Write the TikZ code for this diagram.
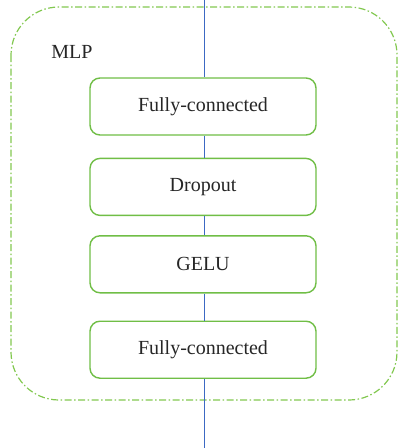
\documentclass[tikz,border=0pt]{standalone}
\usepackage{fontspec}
\setmainfont{Liberation Serif}
\usetikzlibrary{positioning}
\definecolor{boxgreen}{RGB}{112,190,70}
\definecolor{dashgreen}{RGB}{130,200,80}
\definecolor{flowblue}{RGB}{60,105,195}
\tikzset{
	layer/.style={
		rectangle,
		rounded corners=10pt,
		draw=boxgreen, line width=1.4pt,
		fill=white,
		minimum width=226pt,
		minimum height=57pt,
		text=black!85,
		font=\fontsize{20pt}{24pt}\selectfont,
		align=center},
	group/.style={
		draw=dashgreen, line width=1.2pt,
		rounded corners=48pt,
		dash pattern=on 7pt off 2.5pt on 1.5pt off 2.5pt},
	flow/.style={draw=flowblue, line width=1pt},
	caption/.style={text=black!85, font=\fontsize{20pt}{24pt}\selectfont},
}
\begin{document}
\begin{tikzpicture}
	[node distance=22pt]
	\useasboundingbox (0pt,0pt) rectangle (398pt,-448pt);
	% MLP block
	\draw[group] (11pt,-7pt) rectangle (397pt,-400pt);
	\node[caption] (mlplabel) at (72pt,-52pt) {MLP};
	\node[layer] (fc1) at (203pt,-106.5pt) {Fully-connected};
	\node[layer, below=22pt of fc1] (drop) {Dropout};
	\node[layer, below=19pt of drop] (gelu) {GELU};
	\node[layer, below=27pt of gelu] (fc2) {Fully-connected};
	\coordinate (in) at (204pt,0pt);
	\coordinate (out) at (204pt,-448pt);
	% data path
	\draw[flow] (in) -- (in |- fc1.north);
	\draw[flow] (in |- fc1.south) -- (in |- drop.north);
	\draw[flow] (in |- drop.south) -- (in |- gelu.north);
	\draw[flow] (in |- gelu.south) -- (in |- fc2.north);
	\draw[flow] (in |- fc2.south) -- (out);
\end{tikzpicture}
\end{document}
